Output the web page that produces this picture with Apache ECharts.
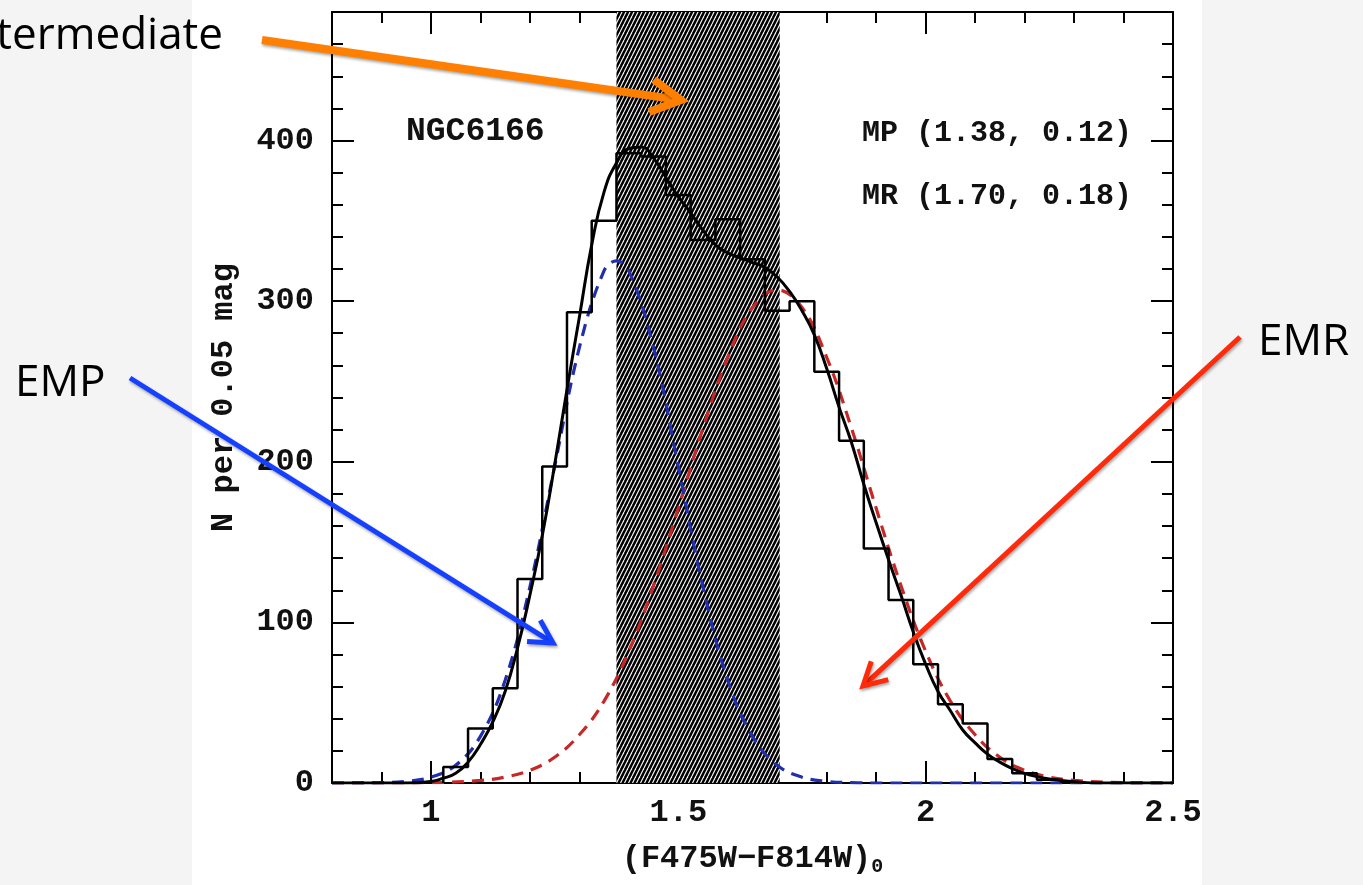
<!DOCTYPE html>
<html>
<head>
<meta charset="utf-8">
<title>NGC6166 colour distribution</title>
<script src="https://cdn.jsdelivr.net/npm/echarts@6.0.0/dist/echarts.min.js"></script>
<style>
html, body { margin: 0; padding: 0; background: #f4f4f4; }
.panel { position: absolute; left: 192px; top: 0; width: 1010px; height: 885px; background: #fff; }
#chart { position: absolute; left: 0; top: 0; width: 1363px; height: 885px; }
</style>
</head>
<body>
<div class="panel"></div>
<div id="chart"></div>
<script>
// histogram, 0.05 mag bins (bin centres)
const binCenters = [1.05, 1.10, 1.15, 1.20, 1.25, 1.30, 1.35, 1.40, 1.45, 1.50, 1.55, 1.60, 1.65,
  1.70, 1.75, 1.80, 1.85, 1.90, 1.95, 2.00, 2.05, 2.10, 2.15, 2.20, 2.25]
const binCounts = [10, 34, 59, 127, 197, 293, 350, 392, 390, 366, 338, 351, 326,
  294, 300, 256, 213, 146, 114, 74, 49, 37, 15, 6, 2]
const binWidth = 0.05

// total fit (solid black)
const fitX = [0.80, 0.95, 1.000, 1.025, 1.050, 1.075, 1.100, 1.125, 1.150, 1.175, 1.200, 1.225, 1.250,
  1.275, 1.300, 1.325, 1.350, 1.375, 1.400, 1.425, 1.450, 1.475, 1.500, 1.525, 1.550, 1.575, 1.600,
  1.625, 1.650, 1.675, 1.700, 1.725, 1.750, 1.775, 1.800, 1.825, 1.850, 1.875, 1.900, 1.925, 1.950,
  1.975, 2.000, 2.025, 2.050, 2.075, 2.100, 2.125, 2.150, 2.175, 2.200, 2.225, 2.250, 2.275, 2.300,
  2.350, 2.50]
const fitY = [0, 0, 1, 3, 6, 13, 24, 38, 57, 84, 117, 154, 198,
  245, 290, 335, 368, 386, 395, 396, 389, 377, 365, 355, 344, 335, 330,
  327, 324, 321, 315, 306, 294, 279, 258, 234, 212, 186, 162, 139, 117,
  94, 74, 57, 45, 33, 25, 18, 13, 9, 6, 4, 2.5, 1.5, 0.8,
  0, 0]

// metal-poor component (blue dashed)
const empX = [0.80, 0.90, 0.95, 1.00, 1.05, 1.10, 1.15, 1.20, 1.25, 1.30, 1.35, 1.375, 1.40, 1.45,
  1.50, 1.55, 1.60, 1.65, 1.70, 1.75, 1.80, 1.85, 1.90, 2.00, 2.50]
const empY = [0, 0.2, 1, 3.6, 11, 29, 64, 122, 197, 271, 319, 325, 319, 271,
  197, 122, 64, 29, 11, 3.6, 1, 0.2, 0, 0, 0]

// metal-rich component (red dashed)
const emrX = [0.80, 1.00, 1.10, 1.15, 1.20, 1.25, 1.30, 1.35, 1.40, 1.45, 1.50, 1.55, 1.60, 1.65, 1.70,
  1.75, 1.80, 1.85, 1.90, 1.95, 2.00, 2.05, 2.10, 2.15, 2.20, 2.25, 2.30, 2.40, 2.50]
const emrY = [0, 0.2, 1.6, 3.7, 7.9, 16, 30, 51, 82, 123, 171, 221, 265, 296, 307,
  296, 265, 221, 171, 123, 82, 51, 30, 16, 7.9, 3.7, 1.6, 0.2, 0]

const hatchRange = [1.375, 1.705]

const FONT = "'Liberation Mono', 'DejaVu Sans Mono', monospace"
const SANS = "'Open Sans', Lato, sans-serif"

// plot box in the page
const plotLeft = 332, plotRight = 190, plotTop = 12, plotBottom = 102
const xMin = 0.8, xMax = 2.5
const pxPerUnit = (1363 - plotLeft - plotRight) / (xMax - xMin)

// step outline of the histogram
const histPts = [[binCenters[0] - binWidth / 2, 0]]
binCenters.forEach((c, i) => {
  histPts.push([c - binWidth / 2, binCounts[i]])
  histPts.push([c + binWidth / 2, binCounts[i]])
})
histPts.push([binCenters[binCenters.length - 1] + binWidth / 2, 0])

// hatch pattern tile
const hatch = document.createElement('canvas')
hatch.width = 4
hatch.height = 8
const hc = hatch.getContext('2d')
hc.fillStyle = '#000'
hc.fillRect(0, 0, 4, 8)
hc.strokeStyle = '#fff'
hc.lineWidth = 1.1
for (const dx of [-4, 0, 4]) {
  hc.beginPath()
  hc.moveTo(dx, 8)
  hc.lineTo(dx + 4, 0)
  hc.stroke()
}

const tickStyle = { color: '#000', width: 2 }
const labelStyle = { fontFamily: FONT, fontWeight: 'bold', fontSize: 32, color: '#111' }

function fmtX(v) {
  const r = Math.round(v * 10) / 10
  return [1, 1.5, 2, 2.5].includes(r) ? String(r) : ''
}

// minor = frame line + short ticks, major = long ticks only
function axis(pos, range, interval, major, extra) {
  return Object.assign({
    type: 'value',
    position: pos,
    min: range[0],
    max: range[1],
    interval: interval,
    splitLine: { show: false },
    axisLine: { show: !major, onZero: false, lineStyle: { color: '#000', width: 2 } },
    axisTick: { show: true, inside: true, length: major ? 22 : 11, lineStyle: tickStyle },
    axisLabel: { show: false }
  }, extra || {})
}

function arrow(x1, y1, x2, y2, color, width, head) {
  const a = Math.atan2(y2 - y1, x2 - x1)
  const s = 0.5
  const p1 = [x2 - head * Math.cos(a - s), y2 - head * Math.sin(a - s)]
  const p2 = [x2 - head * Math.cos(a + s), y2 - head * Math.sin(a + s)]
  const shadow = { shadowBlur: 3, shadowColor: 'rgba(0,0,0,0.35)', shadowOffsetX: 1, shadowOffsetY: 2 }
  return {
    type: 'group',
    z: 100,
    children: [
      { type: 'line', z: 100, shape: { x1: x1, y1: y1, x2: x2 - Math.cos(a) * width * 0.5, y2: y2 - Math.sin(a) * width * 0.5 },
        style: Object.assign({ stroke: color, lineWidth: width }, shadow) },
      { type: 'polyline', z: 100, shape: { points: [p1, [x2, y2], p2] },
        style: Object.assign({ stroke: color, lineWidth: width, fill: null, lineJoin: 'miter' }, shadow) }
    ]
  }
}

const chart = echarts.init(document.getElementById('chart'))

chart.setOption({
  animation: false,
  backgroundColor: 'transparent',
  grid: [
    { left: plotLeft, right: plotRight, top: plotTop, bottom: plotBottom },
    // same box, starting at x = 1.0, only used for the long x ticks
    { left: plotLeft + (1 - xMin) * pxPerUnit, right: plotRight, top: plotTop, bottom: plotBottom }
  ],
  xAxis: [
    axis('bottom', [xMin, xMax], 0.1, false, {
      axisLabel: Object.assign({ show: true, margin: 14, formatter: fmtX }, labelStyle),
      name: '{t|(F475W−F814W)}{s|0}',
      nameLocation: 'middle',
      nameGap: 58,
      nameTextStyle: {
        rich: {
          t: { fontFamily: FONT, fontWeight: 'bold', fontSize: 32, color: '#111' },
          s: { fontFamily: FONT, fontWeight: 'bold', fontSize: 20, color: '#111', padding: [16, 0, 0, 0] }
        }
      }
    }),
    axis('top', [xMin, xMax], 0.1, false),
    axis('bottom', [1, xMax], 0.5, true, { gridIndex: 1 }),
    axis('top', [1, xMax], 0.5, true, { gridIndex: 1 })
  ],
  yAxis: [
    axis('left', [0, 480], 20, false, {
      axisLabel: Object.assign({ show: true, margin: 18, formatter: v => (v % 100 === 0 ? String(v) : '') }, labelStyle),
      name: 'N per 0.05 mag',
      nameLocation: 'middle',
      nameRotate: 90,
      nameGap: 92,
      nameTextStyle: { fontFamily: FONT, fontWeight: 'bold', fontSize: 32, color: '#111' }
    }),
    axis('right', [0, 480], 20, false),
    axis('left', [0, 480], 100, true),
    axis('right', [0, 480], 100, true),
    { type: 'value', gridIndex: 1, min: 0, max: 480, show: false }
  ],
  series: [
    {
      name: 'Intermediate',
      type: 'line',
      data: [[hatchRange[0], 0]],
      showSymbol: false,
      lineStyle: { width: 0 },
      silent: true,
      z: 1,
      markArea: {
        silent: true,
        itemStyle: { color: { image: hatch, repeat: 'repeat' }, opacity: 1 },
        data: [[{ xAxis: hatchRange[0] }, { xAxis: hatchRange[1] }]]
      }
    },
    {
      name: 'EMR',
      type: 'line',
      data: emrX.map((x, i) => [x, emrY[i]]),
      smooth: 0.4,
      showSymbol: false,
      lineStyle: { color: '#c62828', width: 3.2, type: [12, 8] },
      z: 3
    },
    {
      name: 'EMP',
      type: 'line',
      data: empX.map((x, i) => [x, empY[i]]),
      smooth: 0.4,
      showSymbol: false,
      lineStyle: { color: '#1f2fae', width: 3.2, type: [12, 8] },
      z: 3
    },
    {
      name: 'Histogram',
      type: 'line',
      data: histPts,
      showSymbol: false,
      lineStyle: { color: '#000', width: 2.5 },
      z: 4
    },
    {
      name: 'Fit',
      type: 'line',
      data: fitX.map((x, i) => [x, fitY[i]]),
      smooth: 0.5,
      showSymbol: false,
      lineStyle: { color: '#000', width: 3 },
      z: 5
    }
  ],
  graphic: [
    { type: 'text', z: 50, style: { text: 'NGC6166', x: 406, y: 132, font: "bold 33px " + FONT, fill: '#111', verticalAlign: 'middle' } },
    { type: 'text', z: 50, style: { text: 'MP (1.38, 0.12)', x: 1132, y: 133, font: "bold 30px " + FONT, fill: '#111', align: 'right', verticalAlign: 'middle' } },
    { type: 'text', z: 50, style: { text: 'MR (1.70, 0.18)', x: 1132, y: 196, font: "bold 30px " + FONT, fill: '#111', align: 'right', verticalAlign: 'middle' } },
    { type: 'text', z: 50, style: { text: 'Intermediate', x: 223, y: 36, font: "44px " + SANS, fill: '#000', align: 'right', verticalAlign: 'middle' } },
    { type: 'text', z: 50, style: { text: 'EMP', x: 15, y: 383, font: "44px " + SANS, fill: '#000', verticalAlign: 'middle' } },
    { type: 'text', z: 50, style: { text: 'EMR', x: 1258, y: 342, font: "44px " + SANS, fill: '#000', verticalAlign: 'middle' } },
    arrow(262, 40, 681, 100, '#ff8000', 8, 34),
    arrow(130, 378, 553, 643, '#1540ff', 5, 26),
    arrow(1240, 337, 863, 686, '#ff2a0a', 5, 26)
  ]
})
</script>
</body>
</html>
